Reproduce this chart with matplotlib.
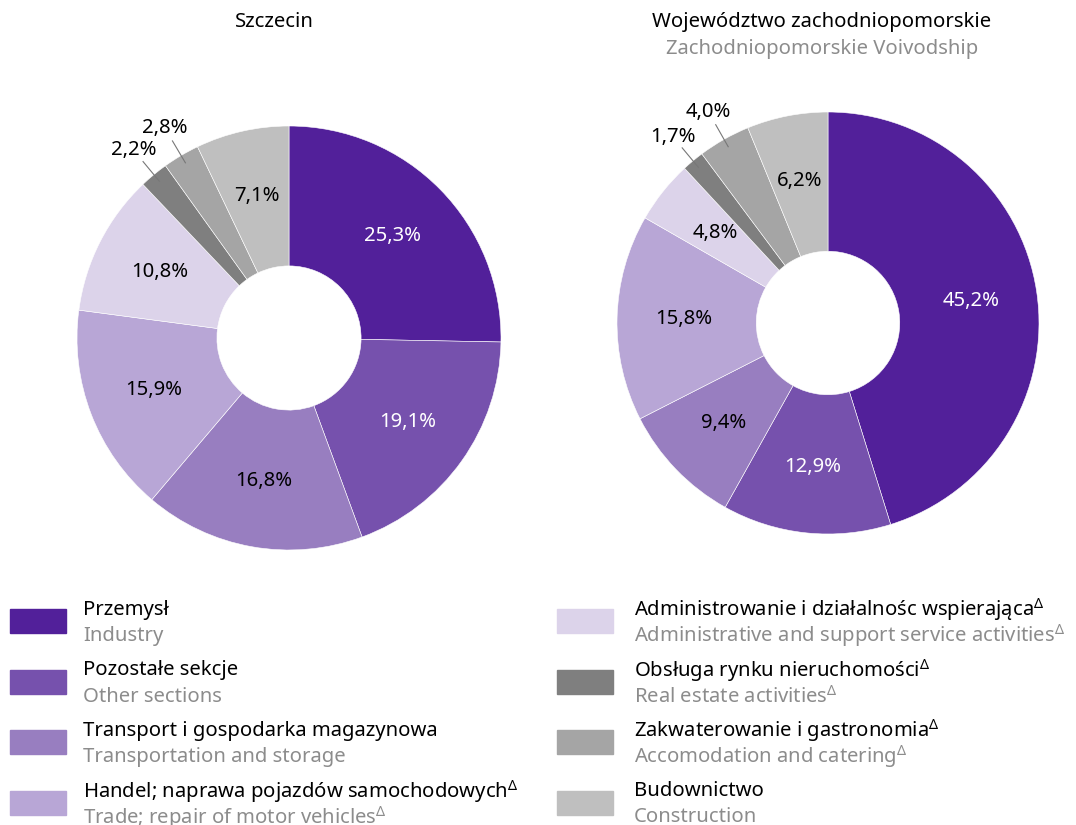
import numpy as np
import matplotlib.pyplot as plt
from matplotlib.patches import Rectangle

plt.rcParams['font.family'] = ['Noto Sans', 'DejaVu Sans']
plt.rcParams['mathtext.fontset'] = 'custom'
plt.rcParams['mathtext.rm'] = 'Noto Sans'

# sections, clockwise from 12 o'clock
labels_pl = ['Przemysł', 'Pozostałe sekcje', 'Transport i gospodarka magazynowa',
             'Handel; naprawa pojazdów samochodowych$^{\\Delta}$',
             'Administrowanie i działalnośc wspierająca$^{\\Delta}$',
             'Obsługa rynku nieruchomości$^{\\Delta}$',
             'Zakwaterowanie i gastronomia$^{\\Delta}$', 'Budownictwo']
labels_en = ['Industry', 'Other sections', 'Transportation and storage',
             'Trade; repair of motor vehicles$^{\\Delta}$',
             'Administrative and support service activities$^{\\Delta}$',
             'Real estate activities$^{\\Delta}$',
             'Accomodation and catering$^{\\Delta}$', 'Construction']
colors = ['#52209a', '#7651ad', '#987ec0', '#b8a6d6', '#dcd3ea',
          '#7f7f7f', '#a5a5a5', '#bfbfbf']

szczecin = [25.3, 19.1, 16.8, 15.9, 10.8, 2.2, 2.8, 7.1]
wojewodztwo = [45.2, 12.9, 9.4, 15.8, 4.8, 1.7, 4.0, 6.2]

W, H = 1076, 825
fig = plt.figure(figsize=(W / 100, H / 100), dpi=100)

GRAY = '#8c8c8c'
FS = 14.6


def donut(cx, cy, R, values):
    # axes square of side 2R centered on (cx, cy) in pixels (y from top)
    ax = fig.add_axes([(cx - R) / W, 1 - (cy + R) / H, 2 * R / W, 2 * R / H])
    wedges, _ = ax.pie(values, colors=colors, startangle=90, counterclock=False,
                       radius=1, wedgeprops=dict(width=0.66, edgecolor='white', linewidth=0.4))
    ax.set_xlim(-1, 1)
    ax.set_ylim(-1, 1)
    ax.set_aspect('equal')
    ax.axis('off')
    cum = 0
    for i, v in enumerate(values):
        mid = np.deg2rad(90 - (cum + v / 2) * 3.6)
        cum += v
        txt = f'{v:.1f}%'.replace('.', ',')
        if i in (5, 6):
            ax.plot([0.96 * np.cos(mid), 1.08 * np.cos(mid)],
                    [0.96 * np.sin(mid), 1.08 * np.sin(mid)],
                    color='#777777', lw=0.8, clip_on=False)
            ax.text(1.15 * np.cos(mid), 1.15 * np.sin(mid), txt, ha='center', va='center',
                    fontsize=FS, color='black', clip_on=False)
        else:
            r = 0.685
            ax.text(r * np.cos(mid), r * np.sin(mid), txt, ha='center', va='center',
                    fontsize=FS, color='white' if i < 2 else 'black')


donut(289, 338, 212, szczecin)
donut(828, 323, 211, wojewodztwo)

fig.text(274 / W, 1 - 22 / H, 'Szczecin', ha='center', va='center', fontsize=FS)
fig.text(822 / W, 1 - 22 / H, 'Województwo zachodniopomorskie', ha='center', va='center', fontsize=FS)
fig.text(822 / W, 1 - 49 / H, 'Zachodniopomorskie Voivodship', ha='center', va='center',
         fontsize=FS, color=GRAY)

# legend
for i in range(8):
    col = i // 4
    row = i % 4
    px = 10 if col == 0 else 557
    tx = 83 if col == 0 else 634
    yc = 621 + row * 60.5
    fig.patches.append(Rectangle((px / W, 1 - (yc + 12) / H), 56 / W, 24 / H,
                                 transform=fig.transFigure, color=colors[i]))
    fig.text(tx / W, 1 - (yc - 11) / H, labels_pl[i], ha='left', va='center', fontsize=FS)
    fig.text(tx / W, 1 - (yc + 15) / H, labels_en[i], ha='left', va='center', fontsize=FS,
             color=GRAY)

fig.savefig('out.png', dpi=100)
